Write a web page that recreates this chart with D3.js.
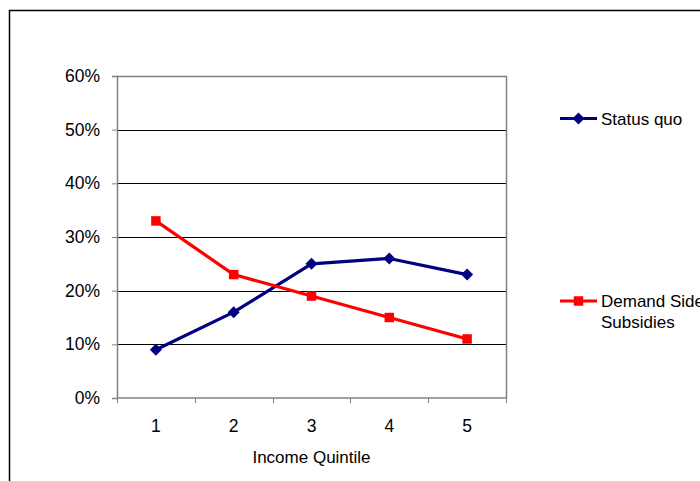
<!DOCTYPE html>
<html>
<head>
<meta charset="utf-8">
<script src="https://cdn.jsdelivr.net/npm/d3@7"></script>
<style>
  html, body { margin: 0; padding: 0; background: #fff; }
  svg { display: block; font-family: "Liberation Sans", Arial, sans-serif; }
</style>
</head>
<body>
<svg id="chart" width="700" height="481"></svg>
<script>
// Share of benefits by income quintile
const quintiles = ["1", "2", "3", "4", "5"];
const statusQuo = [0.09, 0.16, 0.25, 0.26, 0.23];
const demandSide = [0.33, 0.23, 0.19, 0.15, 0.11];
const yTicks = [0, 0.1, 0.2, 0.3, 0.4, 0.5, 0.6];

const svg = d3.select("#chart");

// Outer chart frame
svg.append("rect")
  .attr("x", 9.5).attr("y", 10.5)
  .attr("width", 720).attr("height", 500)
  .attr("fill", "none").attr("stroke", "#000").attr("stroke-width", 1.5);

const plot = { left: 117, top: 76, right: 506, bottom: 398 };

const x = d3.scaleBand().domain(quintiles).range([plot.left, plot.right]).padding(0);
const y = d3.scaleLinear().domain([0, 0.6]).range([plot.bottom, plot.top]);

// Horizontal gridlines
svg.append("g").selectAll("line")
  .data(yTicks.filter(t => t > 0 && t < 0.6))
  .join("line")
  .attr("x1", plot.left).attr("x2", plot.right)
  .attr("y1", d => Math.round(y(d)) + 0.5).attr("y2", d => Math.round(y(d)) + 0.5)
  .attr("stroke", "#000").attr("stroke-width", 1);

// Plot area border (top and right)
svg.append("path")
  .attr("d", `M${plot.left},${plot.top + 0.5}H${plot.right + 0.5}V${plot.bottom}`)
  .attr("fill", "none").attr("stroke", "#808080").attr("stroke-width", 1.5);

// Y axis
const yAxis = d3.axisLeft(y).tickValues(yTicks).tickFormat(d3.format(".0%")).tickSize(5).tickPadding(12);
const gy = svg.append("g").attr("transform", `translate(${plot.left},0)`).call(yAxis);
gy.select(".domain").attr("stroke", "#808080").attr("stroke-width", 1.5);
gy.selectAll(".tick line").attr("stroke", "#808080");
gy.selectAll(".tick text").attr("font-size", 17.5).attr("fill", "#000")
  .attr("font-family", "Liberation Sans, Arial, sans-serif");

// X axis: ticks at category boundaries
const gx = svg.append("g").attr("transform", `translate(0,${plot.bottom})`);
gx.append("line")
  .attr("x1", plot.left).attr("x2", plot.right + 0.5)
  .attr("stroke", "#808080").attr("stroke-width", 1.5);
const boundaries = quintiles.map(q => x(q)).concat([x(quintiles[quintiles.length - 1]) + x.bandwidth()]);
gx.selectAll("line.tk").data(boundaries).join("line").attr("class", "tk")
  .attr("x1", d => Math.round(d) + 0.5).attr("x2", d => Math.round(d) + 0.5)
  .attr("y1", 0).attr("y2", 5)
  .attr("stroke", "#808080").attr("stroke-width", 1);
gx.selectAll("text").data(quintiles).join("text")
  .attr("x", d => x(d) + x.bandwidth() / 2).attr("y", 34)
  .attr("text-anchor", "middle").attr("font-size", 17.5).attr("fill", "#000")
  .text(d => d);

// Axis title
svg.append("text")
  .attr("x", (plot.left + plot.right) / 2).attr("y", 463)
  .attr("text-anchor", "middle").attr("font-size", 17).attr("fill", "#000")
  .text("Income Quintile");

const cx = d => x(d) + x.bandwidth() / 2;
const line = d3.line().x((d, i) => cx(quintiles[i])).y(d => y(d));

// Diamonds are squares turned by 45 degrees
const series = [
  { name: ["Status quo"], values: statusQuo, color: "#000080", rot: 45, size: 72, ly: 118.5 },
  { name: ["Demand Side", "Subsidies"], values: demandSide, color: "#FF0000", rot: 0, size: 90, ly: 301 }
];

series.forEach(s => {
  svg.append("path").datum(s.values)
    .attr("d", line).attr("fill", "none")
    .attr("stroke", s.color).attr("stroke-width", 3.2).attr("stroke-linejoin", "round");
  svg.append("g").selectAll("path").data(s.values).join("path")
    .attr("transform", (d, i) => `translate(${cx(quintiles[i])},${y(d)}) rotate(${s.rot})`)
    .attr("d", d3.symbol().type(d3.symbolSquare).size(s.size))
    .attr("fill", s.color);

  // Legend entry
  svg.append("line")
    .attr("x1", 560).attr("x2", 597).attr("y1", s.ly).attr("y2", s.ly)
    .attr("stroke", s.color).attr("stroke-width", 3.2);
  svg.append("path")
    .attr("transform", `translate(578.5,${s.ly}) rotate(${s.rot})`)
    .attr("d", d3.symbol().type(d3.symbolSquare).size(s.size))
    .attr("fill", s.color);
  const t = svg.append("text").attr("x", 601).attr("y", s.ly + 6)
    .attr("font-size", 17).attr("fill", "#000");
  s.name.forEach((n, i) => t.append("tspan").attr("x", 601).attr("dy", i === 0 ? 0 : 21).text(n));
});
</script>
</body>
</html>
